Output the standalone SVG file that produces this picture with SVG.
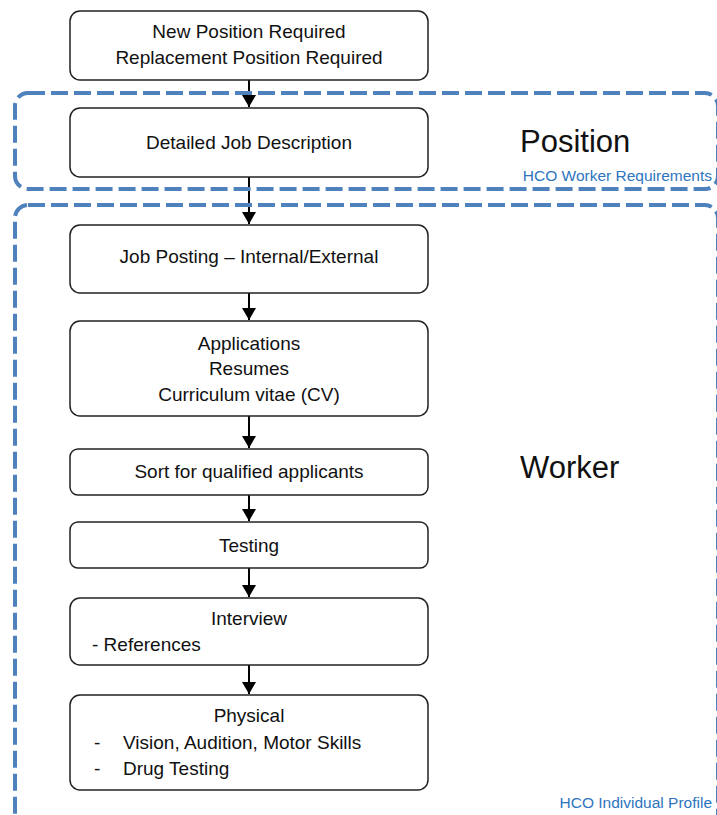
<svg xmlns="http://www.w3.org/2000/svg" width="717" height="815" viewBox="0 0 717 815">
<style>
.box{fill:#fff;stroke:#222;stroke-width:1.5}
.t{font-family:"Liberation Sans",Arial,sans-serif;font-size:19px;fill:#111;text-anchor:middle}
.tl{font-family:"Liberation Sans",Arial,sans-serif;font-size:19px;fill:#111}
.big{font-family:"Liberation Sans",Arial,sans-serif;font-size:31px;fill:#111}
.blue{font-family:"Liberation Sans",Arial,sans-serif;font-size:15.5px;fill:#2E75C0;text-anchor:end}
.region{fill:none;stroke:#4F81BD;stroke-width:4;stroke-dasharray:17 6}
.conn{stroke:#000;stroke-width:2;fill:none}
</style>
<defs>
<marker id="ah" viewBox="0 0 12 14" refX="12" refY="7" markerWidth="12" markerHeight="14" markerUnits="userSpaceOnUse" orient="auto">
<path d="M0,0 L12,7 L0,14 Z" fill="#000"/>
</marker>
</defs>
<g id="connectors">
<line class="conn" x1="249" y1="80" x2="249" y2="107" marker-end="url(#ah)"/>
<line class="conn" x1="249" y1="177" x2="249" y2="224" marker-end="url(#ah)"/>
<line class="conn" x1="249" y1="293" x2="249" y2="320" marker-end="url(#ah)"/>
<line class="conn" x1="249" y1="416" x2="249" y2="448" marker-end="url(#ah)"/>
<line class="conn" x1="249" y1="495" x2="249" y2="521" marker-end="url(#ah)"/>
<line class="conn" x1="249" y1="568" x2="249" y2="597" marker-end="url(#ah)"/>
<line class="conn" x1="249" y1="665" x2="249" y2="694" marker-end="url(#ah)"/>
</g>
<g id="position-region">
<rect class="region" x="15" y="93" width="703" height="96" rx="13"/>
<text class="big" x="520" y="152">Position</text>
<text class="blue" x="712" y="181">HCO Worker Requirements</text>
</g>
<g id="worker-region">
<rect class="region" x="15" y="205" width="703" height="640" rx="13"/>
<text class="big" x="520" y="478">Worker</text>
<text class="blue" x="712" y="808">HCO Individual Profile</text>
</g>
<g id="n1">
<rect class="box" x="70" y="11" width="358" height="69" rx="10"/>
<text class="t" x="249" y="38">New Position Required</text>
<text class="t" x="249" y="64">Replacement Position Required</text>
</g>
<g id="n2">
<rect class="box" x="70" y="108" width="358" height="69" rx="10"/>
<text class="t" x="249" y="149">Detailed Job Description</text>
</g>
<g id="n3">
<rect class="box" x="70" y="225" width="358" height="68" rx="10"/>
<text class="t" x="249" y="263">Job Posting – Internal/External</text>
</g>
<g id="n4">
<rect class="box" x="70" y="321" width="358" height="95" rx="10"/>
<text class="t" x="249" y="350">Applications</text>
<text class="t" x="249" y="375">Resumes</text>
<text class="t" x="249" y="401">Curriculum vitae (CV)</text>
</g>
<g id="n5">
<rect class="box" x="70" y="449" width="358" height="46" rx="8"/>
<text class="t" x="249" y="478">Sort for qualified applicants</text>
</g>
<g id="n6">
<rect class="box" x="70" y="522" width="358" height="46" rx="8"/>
<text class="t" x="249" y="552">Testing</text>
</g>
<g id="n7">
<rect class="box" x="70" y="598" width="358" height="67" rx="10"/>
<text class="t" x="249" y="625">Interview</text>
<text class="tl" x="92" y="651">- References</text>
</g>
<g id="n8">
<rect class="box" x="70" y="695" width="358" height="95" rx="10"/>
<text class="t" x="249" y="722">Physical</text>
<text class="tl" x="94" y="749">-</text>
<text class="tl" x="123" y="749">Vision, Audition, Motor Skills</text>
<text class="tl" x="94" y="775">-</text>
<text class="tl" x="123" y="775">Drug Testing</text>
</g>
</svg>
